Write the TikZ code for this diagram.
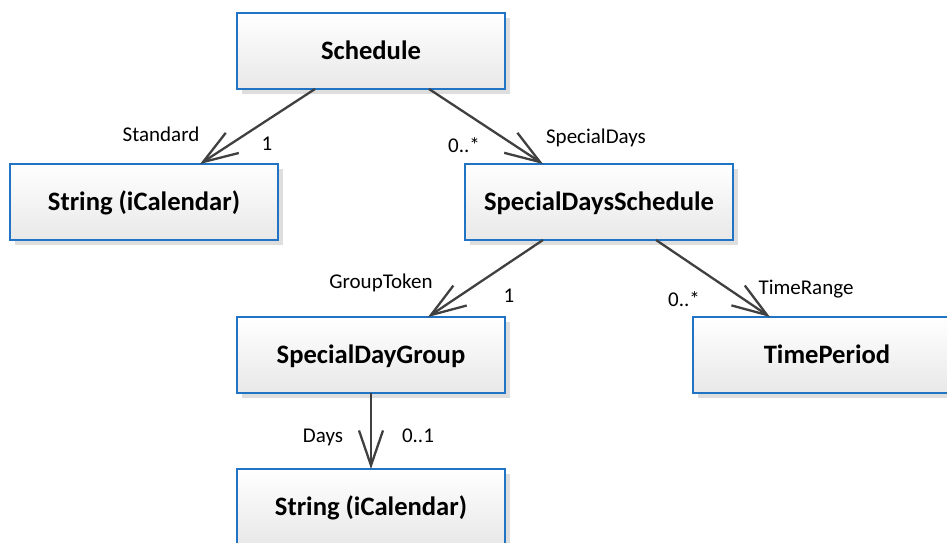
\documentclass[tikz,border=0pt]{standalone}
\usepackage{fontspec}
\setmainfont{Carlito}
\usetikzlibrary{arrows.meta,shadows}
\definecolor{boxblue}{RGB}{33,115,196}
\definecolor{linkgrey}{RGB}{64,64,64}
\tikzset{
  classbox/.style={
    draw=boxblue, line width=2pt, outer sep=0pt,
    top color=white, bottom color=black!9,
    minimum width=268pt, minimum height=76pt,
    font=\fontsize{26.6}{30}\selectfont\bfseries,
    text height=17pt, text depth=0pt,
    drop shadow={shadow xshift=5pt, shadow yshift=-5pt, fill=black!13, opacity=1}
  },
  assoc/.style={
    draw=linkgrey, line width=2.3pt,
    -{Straight Barb[length=35pt, width=24pt, line width=2.3pt]}
  },
  rolelabel/.style={
    font=\fontsize{21}{24}\selectfont, anchor=base, inner sep=0pt
  }
}
\begin{document}
\begin{tikzpicture}[x=1pt, y=-1pt]
  \useasboundingbox (0,0) rectangle (947,543);
  \clip (0,0) rectangle (947,543);

  % class boxes
  \node[classbox] (sched) at (371,51)  {Schedule};
  \node[classbox] (strl)  at (144,202) {String (iCalendar)};
  \node[classbox] (sds)   at (599,202) {SpecialDaysSchedule};
  \node[classbox] (sdg)   at (371,355) {SpecialDayGroup};
  \node[classbox] (tp)    at (827,355) {TimePeriod};
  \node[classbox] (strb)  at (371,507) {String (iCalendar)};

  % associations
  \draw[assoc] ([xshift=78pt]sched.south west)  -- ([xshift=190pt]strl.north west);
  \draw[assoc] ([xshift=192pt]sched.south west) -- ([xshift=78pt]sds.north west);
  \draw[assoc] ([xshift=78pt]sds.south west)    -- ([xshift=191pt]sdg.north west);
  \draw[assoc] ([xshift=191pt]sds.south west)   -- ([xshift=77pt]tp.north west);
  \draw[assoc] (sdg.south) -- (strb.north);

  % role names and multiplicities
  \node[rolelabel] (lstd)  at (161,141) {Standard};
  \node[rolelabel] (mstd)  at (267,150) {1};
  \node[rolelabel] (msd)   at (464,152) {0..*};
  \node[rolelabel] (lsd)   at (596,143) {SpecialDays};
  \node[rolelabel] (lgt)   at (381,288) {GroupToken};
  \node[rolelabel] (mgt)   at (509,302) {1};
  \node[rolelabel] (mtr)   at (684,306) {0..*};
  \node[rolelabel] (ltr)   at (806,294) {TimeRange};
  \node[rolelabel] (ldays) at (323,442) {Days};
  \node[rolelabel] (mdays) at (418,442) {0..1};
\end{tikzpicture}
\end{document}
